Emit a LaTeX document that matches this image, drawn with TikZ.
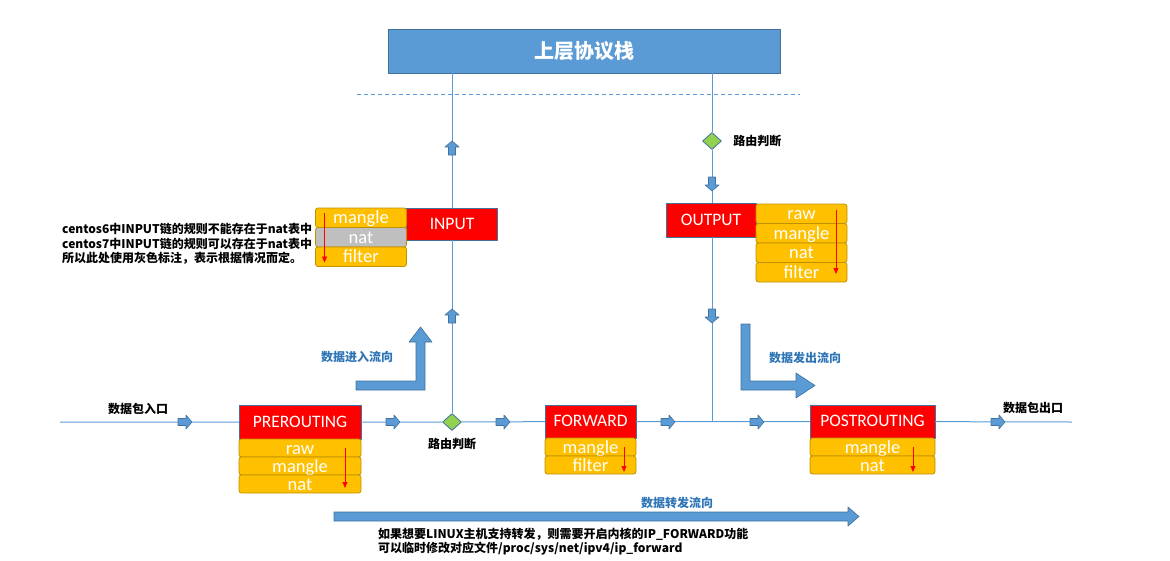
\documentclass[tikz,border=0pt]{standalone}
\usepackage{fontspec}
\setmainfont{Carlito}
\newfontfamily\cjk{Noto Sans CJK SC}
\usetikzlibrary{arrows.meta,shapes.geometric,positioning}
\definecolor{flowblue}{HTML}{5B9BD5}
\definecolor{edgeblue}{HTML}{41719C}
\definecolor{labelblue}{HTML}{2E75B6}
\definecolor{chainred}{HTML}{FF0000}
\definecolor{tblgold}{HTML}{FFC000}
\definecolor{tbledge}{HTML}{BF9000}
\definecolor{tblgray}{HTML}{BFBFBF}
\definecolor{routegreen}{HTML}{92D050}
\tikzset{
  every picture/.style={line join=round, >=Stealth},
  flow/.style={draw=flowblue, line width=1pt},
  chain/.style={draw=edgeblue, fill=chainred, text=white, line width=0.8pt, inner sep=0pt, outer sep=0pt,
    font=\fontsize{17.5}{17.5}\selectfont, text height=10pt, text depth=0pt, minimum height=33pt},
  tbl/.style={draw=tbledge, fill=tblgold, text=white, rounded corners=2.5pt, line width=0.8pt, inner sep=0pt, outer sep=0pt,
    font=\fontsize{18.5}{18.5}\selectfont, text height=12pt, text depth=0pt, minimum height=18pt},
  tall/.style={minimum height=19.5pt},
  route/.style={diamond, draw=edgeblue, fill=routegreen, minimum width=19pt, minimum height=17pt, inner sep=0pt, line width=0.8pt},
  cn/.style={font=\cjk\bfseries\fontsize{12}{14.5}\selectfont},
  cnblue/.style={cn, text=labelblue},
  tip/.style={draw=red, line width=0.8pt, -{Triangle[width=5pt,length=6pt]}},
  block/.style={fill=flowblue, draw=edgeblue, line width=0.6pt},
  smallarrow/.pic={\path[block] (-7,-3.5)--(1,-3.5)--(1,-7)--(7,0)--(1,7)--(1,3.5)--(-7,3.5)--cycle;},
}

\begin{document}
\begin{tikzpicture}[x=1pt,y=-1pt]
\useasboundingbox (0,0) rectangle (1170,560);
% upper protocol stack
\node[draw=edgeblue, fill=flowblue, line width=0.8pt, minimum width=392pt, minimum height=44pt, text=white,
  font=\cjk\bfseries\fontsize{20}{20}\selectfont] (stack) at (584,51) {上层协议栈};
\draw[flowblue, dash pattern=on 4pt off 3pt, line width=0.8pt] (357,94) -- (800,94);

% chains
\node[chain, minimum width=122pt, minimum height=34pt] (pre) at (300,422) {PREROUTING};
\node[chain, minimum width=91pt, minimum height=32pt] (input) at (452,224) {INPUT};
\node[chain, minimum width=91pt] (fwd) at (590.5,421.5) {FORWARD};
\node[chain, minimum width=125pt] (post) at (872.5,421.5) {POSTROUTING};
\node[chain, minimum width=90pt, minimum height=34pt] (output) at (711,220) {OUTPUT};

% tables
\node[tbl, minimum width=122pt, below=0pt of pre] (pre-raw) {raw};
\node[tbl, minimum width=122pt, below=0pt of pre-raw] (pre-mangle) {mangle};
\node[tbl, minimum width=122pt, below=0pt of pre-mangle] (pre-nat) {nat};
\node[tbl, tall, minimum width=91pt, anchor=north east] (in-mangle) at (input.north west) {mangle};
\node[tbl, tall, minimum width=91pt, fill=tblgray, below=0pt of in-mangle] (in-nat) {nat};
\node[tbl, tall, minimum width=91pt, below=0pt of in-nat] (in-filter) {filter};
\node[tbl, minimum width=91pt, below=0pt of fwd] (fwd-mangle) {mangle};
\node[tbl, minimum width=91pt, below=0pt of fwd-mangle] (fwd-filter) {filter};
\node[tbl, minimum width=125pt, below=0pt of post] (post-mangle) {mangle};
\node[tbl, minimum width=125pt, below=0pt of post-mangle] (post-nat) {nat};
\node[tbl, tall, minimum width=91pt, anchor=north west] (out-raw) at ([yshift=-1pt]output.north east) {raw};
\node[tbl, tall, minimum width=91pt, below=0pt of out-raw] (out-mangle) {mangle};
\node[tbl, tall, minimum width=91pt, below=0pt of out-mangle] (out-nat) {nat};
\node[tbl, tall, minimum width=91pt, below=0pt of out-nat] (out-filter) {filter};

% table order
\draw[tip] ([xshift=-16pt]pre-raw.east) -- ([xshift=-16pt,yshift=5pt]pre-nat.south east);
\draw[tip] ([xshift=9pt,yshift=-5pt]in-mangle.north west) -- ([xshift=9pt,yshift=4pt]in-filter.south west);
\draw[tip] ([xshift=-12pt]fwd-mangle.east) -- ([xshift=-12pt,yshift=2pt]fwd-filter.south east);
\draw[tip] ([xshift=-22pt]post-mangle.east) -- ([xshift=-22pt,yshift=2pt]post-nat.south east);
\draw[tip] ([xshift=-11pt,yshift=-6pt]out-raw.north east) -- ([xshift=-11pt,yshift=8pt]out-filter.south east);

% routing decisions
\node[route] (rd1) at (452,422) {};
\node[route] (rd2) at (712,141) {};
\node[cn, below=4pt of rd1] (rd1label) {路由判断};
\node[cn, right=8pt of rd2] (rd2label) {路由判断};

% connectors
\coordinate (entry) at (60,422);
\coordinate (exit) at (1072,422);
\coordinate (join) at (712,422);
\draw[flow] (entry) -- (pre) (pre) -- (rd1) (rd1) -- (fwd) (fwd) -- (post) (post) -- (exit);
\draw[flow] (input |- stack.south) -- (input) (input) -- (rd1);
\draw[flow] (rd2 |- stack.south) -- (rd2) (rd2) -- (rd2 |- output.north) (rd2 |- output.south) -- (join);

% flow marks
\foreach \x in {185,393,503,668,757,998} \pic at (\x,422) {smallarrow};
\foreach \y in {148,316} \pic[rotate=90] at (452,\y) {smallarrow};
\foreach \y in {184,316} \pic[rotate=-90] at (712,\y) {smallarrow};

% big arrows
\path[block] (356,381) -- (416,381) -- (416,342) -- (409,342) -- (420.5,327) -- (432,342) -- (425,342) -- (425,390) -- (356,390) -- cycle;
\path[block] (741,324) -- (750,324) -- (750,381) -- (796,381) -- (796,373) -- (815,385.5) -- (796,398) -- (796,390) -- (741,390) -- cycle;
\path[block] (334,512) -- (848,512) -- (848,507) -- (859,516.5) -- (848,526) -- (848,521) -- (334,521) -- cycle;

% labels
\node[cnblue] (inflow) at (357,357) {数据进入流向};
\node[cnblue] (outflow) at (805,358) {数据发出流向};
\node[cnblue] (fwdflow) at (677,503) {数据转发流向};
\node[cn] (inlabel) at (138,409) {数据包入口};
\node[cn] (outlabel) at (1033,408) {数据包出口};
\node[cn, align=left, anchor=west, inner sep=0pt] (note) at (62,244) {centos6中INPUT链的规则不能存在于nat表中\\centos7中INPUT链的规则可以存在于nat表中\\所以此处使用灰色标注，表示根据情况而定。};
\node[cn, align=left, anchor=west, inner sep=0pt, font=\cjk\bfseries\fontsize{12}{14}\selectfont] (fwdnote) at (378,542) {如果想要LINUX主机支持转发，则需要开启内核的IP\_FORWARD功能\\可以临时修改对应文件/proc/sys/net/ipv4/ip\_forward};
\end{tikzpicture}
\end{document}
